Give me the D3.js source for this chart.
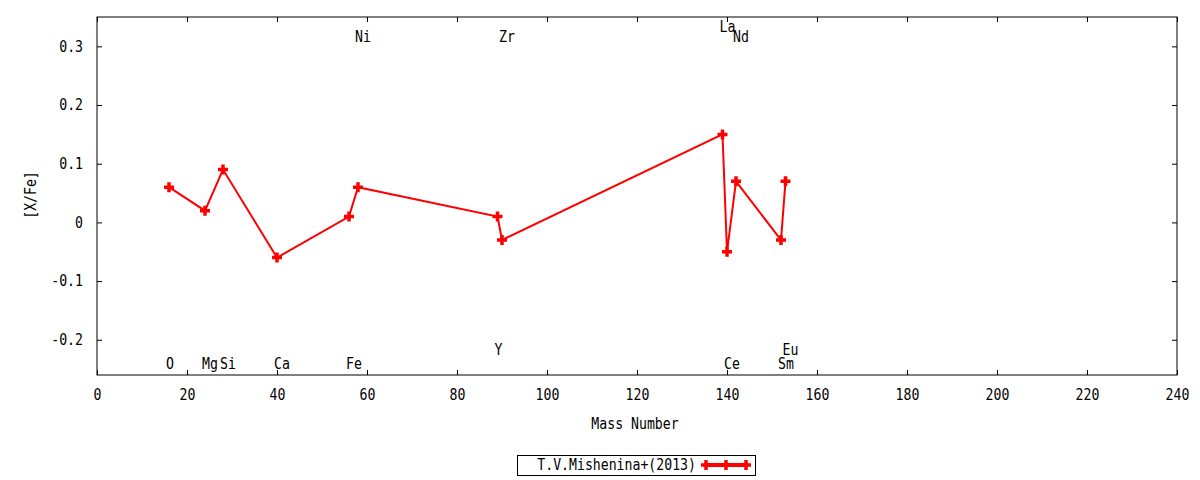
<!DOCTYPE html>
<html>
<head>
<meta charset="utf-8">
<script src="https://cdn.jsdelivr.net/npm/d3@7"></script>
<style>
  body { margin: 0; background: #fff; }
  svg text { font-family: "DejaVu Sans Mono", monospace; font-size: 15px; fill: #000; }
</style>
</head>
<body>
<div id="chart"></div>
<script>
// element abundances, Mishenina et al. (2013)
const elements = ["O", "Mg", "Si", "Ca", "Fe", "Ni", "Y", "Zr", "La", "Ce", "Nd", "Sm", "Eu"];
const massNumber = [16, 24, 28, 40, 56, 58, 89, 90, 139, 140, 142, 152, 153];
const xFe = [0.06, 0.02, 0.09, -0.06, 0.01, 0.06, 0.01, -0.03, 0.15, -0.05, 0.07, -0.03, 0.07];
// height (in [X/Fe] units) where each element name is written
const labelLevel = [-0.24, -0.24, -0.24, -0.24, -0.24, 0.317, -0.217, 0.317, 0.334, -0.24, 0.317, -0.24, -0.217];
const xTicks = [0, 20, 40, 60, 80, 100, 120, 140, 160, 180, 200, 220, 240];
const yTicks = [-0.2, -0.1, 0, 0.1, 0.2, 0.3];
const seriesName = "T.V.Mishenina+(2013)";

const margin = { top: 17, right: 23, bottom: 105, left: 97 },
      width = 1200 - margin.left - margin.right,
      height = 480 - margin.top - margin.bottom;
const squeeze = 0.88; // narrow the mono font like gnuplot's
const red = "#ff0000";

const svg = d3.select("#chart").append("svg")
    .attr("width", 1200)
    .attr("height", 480);
const g = svg.append("g")
    .attr("transform", `translate(${margin.left},${margin.top})`);

const x = d3.scaleLinear().domain([0, 240]).range([0, width]);
const y = d3.scaleLinear().domain([-0.26, 0.35]).range([height, 0]);
const fmt = d => d === 0 ? "0" : d.toFixed(1);

// bottom axis with labels, ticks pointing inward
const xAxis = g.append("g")
    .attr("transform", `translate(0,${height})`)
    .call(d3.axisBottom(x).tickValues(xTicks).tickSize(-5).tickPadding(14).tickFormat(d3.format("d")));
xAxis.selectAll("text").attr("transform", `scale(${squeeze},1)`);

const yAxis = g.append("g")
    .call(d3.axisLeft(y).tickValues(yTicks).tickSize(-5).tickFormat(fmt));
yAxis.selectAll("text")
    .attr("x", -14 / squeeze)
    .attr("transform", `scale(${squeeze},1)`);

// mirror ticks
g.append("g").call(d3.axisTop(x).tickValues(xTicks).tickSize(-5).tickFormat(""));
g.append("g").attr("transform", `translate(${width},0)`)
    .call(d3.axisRight(y).tickValues(yTicks).tickSize(-5).tickFormat(""));

g.selectAll(".domain").remove();
g.selectAll(".tick line").attr("stroke", "#000");
g.selectAll(".tick text").style("font-family", null).style("font-size", null).attr("font-family", null).attr("font-size", null);

g.append("rect")
    .attr("width", width)
    .attr("height", height)
    .attr("fill", "none")
    .attr("stroke", "#000")
    .attr("stroke-width", 1);

// element names
g.selectAll(".elem")
    .data(elements)
    .enter().append("text")
    .attr("class", "elem")
    .attr("transform", (d, i) => `translate(${x(massNumber[i]) - 3},${y(labelLevel[i]) + 5.5}) scale(${squeeze},1)`)
    .text(d => d);

// series line and markers
const pts = massNumber.map((m, i) => [m, xFe[i]]);
g.append("path")
    .datum(pts)
    .attr("fill", "none")
    .attr("stroke", red)
    .attr("stroke-width", 2)
    .attr("d", d3.line().x(d => x(d[0])).y(d => y(d[1])));

const plus = "M-5,0H5M0,-5V5";
g.selectAll(".pt")
    .data(pts)
    .enter().append("path")
    .attr("class", "pt")
    .attr("transform", d => `translate(${x(d[0])},${y(d[1])})`)
    .attr("d", plus)
    .attr("stroke", red)
    .attr("stroke-width", 3.5);

// axis titles
svg.append("text")
    .attr("transform", `translate(635,429) scale(${squeeze},1)`)
    .attr("text-anchor", "middle")
    .text("Mass Number");
svg.append("text")
    .attr("transform", `translate(36,195) rotate(-90) scale(${squeeze},1)`)
    .attr("text-anchor", "middle")
    .text("[X/Fe]");

// legend
const leg = svg.append("g");
leg.append("rect")
    .attr("x", 517.5).attr("y", 455.5)
    .attr("width", 238).attr("height", 20)
    .attr("fill", "none").attr("stroke", "#000");
leg.append("text")
    .attr("transform", `translate(696,470) scale(${squeeze},1)`)
    .attr("text-anchor", "end")
    .text(seriesName);
leg.append("line")
    .attr("x1", 704).attr("x2", 748)
    .attr("y1", 465).attr("y2", 465)
    .attr("stroke", red).attr("stroke-width", 4);
leg.selectAll(".lpt")
    .data([706, 726, 746])
    .enter().append("path")
    .attr("transform", d => `translate(${d},465)`)
    .attr("d", plus)
    .attr("stroke", red)
    .attr("stroke-width", 3.5);
</script>
</body>
</html>
